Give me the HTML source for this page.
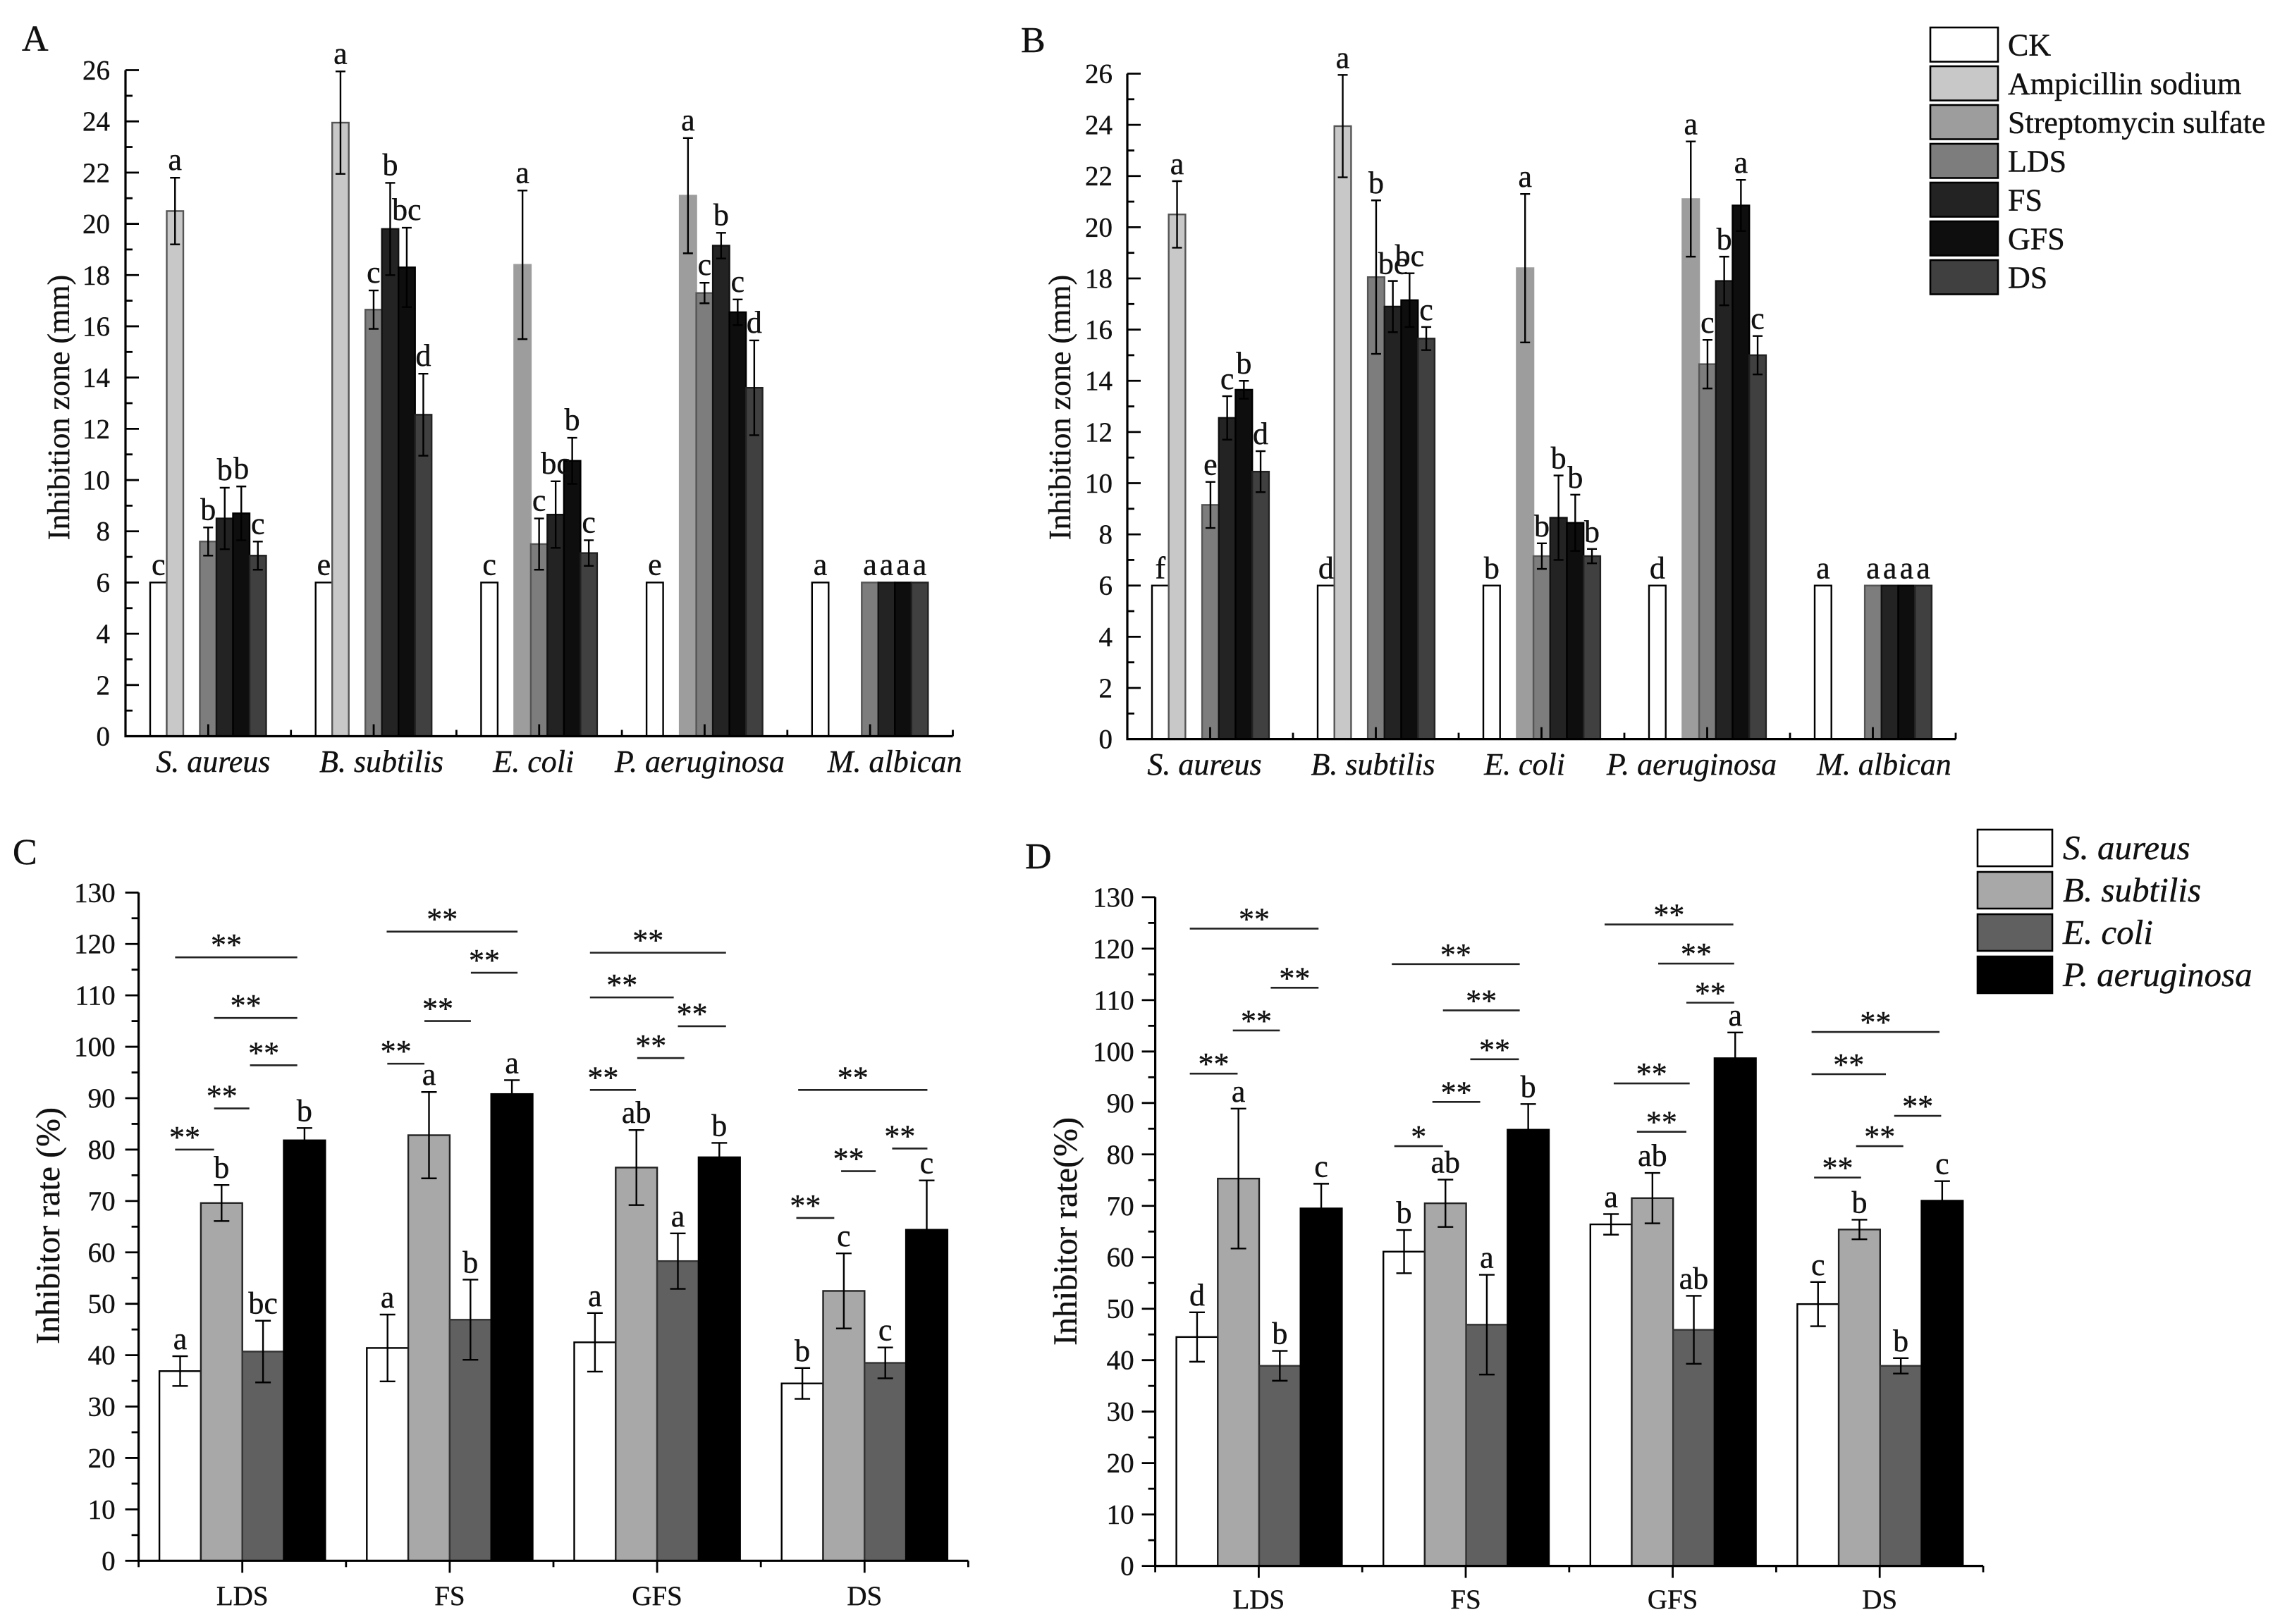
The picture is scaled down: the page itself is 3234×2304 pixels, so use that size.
<!DOCTYPE html>
<html lang="en">
<head>
<meta charset="utf-8">
<title>Inhibition zone and inhibitor rate charts</title>
<style>
html,body{margin:0;padding:0;background:#fff;width:3234px;height:2304px;overflow:hidden}
svg{display:block}
text{font-family:"Liberation Serif",serif;fill:#111;stroke:#111;stroke-width:.4px}
</style>
</head>
<body>
<svg id="fig" xmlns="http://www.w3.org/2000/svg" width="3234" height="2304" viewBox="0 0 3234 2304"></svg>
<script>
// ---- Panels A / B shared categories and series ----
const zoneCategories = ["S. aureus", "B. subtilis", "E. coli", "P. aeruginosa", "M. albican"];
const zoneSeries = ["CK", "Ampicillin sodium", "Streptomycin sulfate", "LDS", "FS", "GFS", "DS"];
const zoneTicks = [0, 2, 4, 6, 8, 10, 12, 14, 16, 18, 20, 22, 24, 26];

// ---- Panel A values (one array per organism, ordered as zoneSeries) ----
const aSaureus = [6, 20.5, null, 7.6, 8.5, 8.7, 7.05];
const aBsubtilis = [6, 23.95, null, 16.65, 19.8, 18.3, 12.55];
const aEcoli = [6, null, 18.4, 7.5, 8.65, 10.75, 7.15];
const aPaeruginosa = [6, null, 21.1, 17.3, 19.15, 16.55, 13.6];
const aMalbican = [6, null, null, 6, 6, 6, 6];
const aSaureusErr = [0, 1.3, 0, 0.55, 1.2, 1.05, 0.55];
const aBsubtilisErr = [0, 2.0, 0, 0.75, 1.8, 1.55, 1.6];
const aEcoliErr = [0, 0, 2.9, 1.0, 1.3, 0.9, 0.5];
const aPaeruginosaErr = [0, 0, 2.25, 0.4, 0.5, 0.5, 1.85];
const aMalbicanErr = [0, 0, 0, 0, 0, 0, 0];
const aSaureusLetters = ["c", "a", "", "b", "b", "b", "c"];
const aBsubtilisLetters = ["e", "a", "", "c", "b", "bc", "d"];
const aEcoliLetters = ["c", "", "a", "c", "bc", "b", "c"];
const aPaeruginosaLetters = ["e", "", "a", "c", "b", "c", "d"];
const aMalbicanLetters = ["a", "", "", "a", "a", "a", "a"];

// ---- Panel B values ----
const bSaureus = [6, 20.5, null, 9.15, 12.55, 13.65, 10.45];
const bBsubtilis = [6, 23.95, null, 18.05, 16.9, 17.15, 15.65];
const bEcoli = [6, null, 18.4, 7.15, 8.65, 8.45, 7.15];
const bPaeruginosa = [6, null, 21.1, 14.65, 17.9, 20.85, 15.0];
const bMalbican = [6, null, null, 6, 6, 6, 6];
const bSaureusErr = [0, 1.3, 0, 0.9, 0.85, 0.35, 0.8];
const bBsubtilisErr = [0, 2.0, 0, 3.0, 1.0, 1.05, 0.45];
const bEcoliErr = [0, 0, 2.9, 0.5, 1.65, 1.1, 0.28];
const bPaeruginosaErr = [0, 0, 2.25, 0.95, 0.95, 1.0, 0.75];
const bMalbicanErr = [0, 0, 0, 0, 0, 0, 0];
const bSaureusLetters = ["f", "a", "", "e", "c", "b", "d"];
const bBsubtilisLetters = ["d", "a", "", "b", "bc", "bc", "c"];
const bEcoliLetters = ["b", "", "a", "b", "b", "b", "b"];
const bPaeruginosaLetters = ["d", "", "a", "c", "b", "a", "c"];
const bMalbicanLetters = ["a", "", "", "a", "a", "a", "a"];

// ---- Panels C / D shared categories and series ----
const rateCategories = ["LDS", "FS", "GFS", "DS"];
const rateSeries = ["S. aureus", "B. subtilis", "E. coli", "P. aeruginosa"];
const rateTicks = [0, 10, 20, 30, 40, 50, 60, 70, 80, 90, 100, 110, 120, 130];

// ---- Panel C values (one array per treatment, ordered as rateSeries) ----
const cLDS = [36.9, 69.6, 40.7, 81.8];
const cFS = [41.4, 82.8, 46.9, 90.8];
const cGFS = [42.5, 76.5, 58.3, 78.5];
const cDS = [34.5, 52.5, 38.5, 64.4];
const cLDSErr = [2.9, 3.5, 6.0, 2.4];
const cFSErr = [6.5, 8.4, 7.8, 2.7];
const cGFSErr = [5.7, 7.3, 5.4, 2.8];
const cDSErr = [3.0, 7.3, 3.0, 9.6];
const cLDSLetters = ["a", "b", "bc", "b"];
const cFSLetters = ["a", "a", "b", "a"];
const cGFSLetters = ["a", "ab", "a", "b"];
const cDSLetters = ["b", "c", "c", "c"];
const cSigFrom = [0.176, 0.364, 0.537, 0.364, 0.176, 1.196, 1.602, 1.378, 1.199, 2.176, 2.176, 2.6, 2.404, 2.176, 3.18, 3.633, 3.387, 3.171];
const cSigTo = [0.765, 0.765, 0.765, 0.534, 0.364, 1.827, 1.827, 1.602, 1.378, 2.832, 2.58, 2.832, 2.631, 2.398, 3.803, 3.803, 3.554, 3.354];
const cSigLevel = [117.4, 105.6, 96.4, 88, 80, 122.4, 114.4, 105, 96.7, 118.3, 109.6, 104, 97.8, 91.6, 91.6, 80.2, 75.8, 66.7];
const cSigMark = ["**", "**", "**", "**", "**", "**", "**", "**", "**", "**", "**", "**", "**", "**", "**", "**", "**", "**"];

// ---- Panel D values ----
const dLDS = [44.5, 75.3, 38.9, 69.5];
const dFS = [61.1, 70.5, 46.9, 84.8];
const dGFS = [66.4, 71.5, 45.9, 98.7];
const dDS = [50.9, 65.4, 38.9, 71.0];
const dLDSErr = [4.8, 13.6, 2.9, 4.8];
const dFSErr = [4.2, 4.6, 9.7, 5.0];
const dGFSErr = [2.0, 4.9, 6.6, 5.0];
const dDSErr = [4.3, 1.9, 1.5, 3.8];
const dLDSLetters = ["d", "a", "b", "c"];
const dFSLetters = ["b", "ab", "a", "b"];
const dGFSLetters = ["a", "ab", "ab", "a"];
const dDSLetters = ["c", "b", "b", "c"];
const dSigFrom = [0.167, 0.558, 0.375, 0.167, 1.143, 1.39, 1.522, 1.339, 1.155, 2.171, 2.43, 2.566, 2.215, 2.327, 3.171, 3.171, 3.57, 3.386, 3.183];
const dSigTo = [0.789, 0.789, 0.602, 0.398, 1.761, 1.761, 1.757, 1.57, 1.39, 2.793, 2.797, 2.797, 2.582, 2.566, 3.789, 3.53, 3.797, 3.614, 3.41];
const dSigLevel = [123.9, 112.4, 104.1, 95.7, 117, 108, 98.5, 90.2, 81.6, 124.7, 117.1, 109.5, 93.8, 84.4, 103.8, 95.6, 87.5, 81.6, 75.5];
const dSigMark = ["**", "**", "**", "**", "**", "**", "**", "**", "*", "**", "**", "**", "**", "**", "**", "**", "**", "**", "**"];

// ---- Styling ----
const zoneFills = ["#ffffff", "#c8c8c8", "#9d9d9d", "#7d7d7d", "#232323", "#0e0e0e", "#404040"];
const zoneStrokes = ["#000", "#555", "#9d9d9d", "#555", "#111", "#000", "#222"];
const rateFills = ["#ffffff", "#a8a8a8", "#606060", "#000000"];
const rateStrokes = ["#000", "#222", "#333", "#000"];

const SVGNS = "http://www.w3.org/2000/svg";
const root = document.getElementById("fig");

function make(tag, attrs, parent, content) {
  const node = document.createElementNS(SVGNS, tag);
  for (const k in attrs) node.setAttribute(k, attrs[k]);
  if (content !== undefined) node.textContent = content;
  parent.appendChild(node);
  return node;
}
function slug(s) {
  return String(s).toLowerCase().replace(/[^a-z0-9]+/g, "-").replace(/^-|-$/g, "");
}

function drawPanel(p) {
  const g = make("g", {}, root);
  
  

  const xOf = u => p.x0 + u * p.groupW;
  const yOf = v => p.y0 + (v - p.ticks[0]) / (p.ticks[p.ticks.length - 1] - p.ticks[0]) * (p.yTop - p.y0);
  const nGroups = p.categories.length;
  const xEnd = xOf(nGroups);

  // panel letter
  const lab = make("text", { x: p.letterX, y: p.letterY, "font-size": 52 }, g, p.id);
  
  

  // bars + error bars + letters
  p.values.forEach((vals, gi) => {
    vals.forEach((v, si) => {
      if (v === null) return;
      const left = xOf(gi) + p.offset + si * p.barW;
      const bar = make("rect", {
        x: left, y: yOf(v), width: p.barW, height: yOf(p.ticks[0]) - yOf(v),
        fill: p.fills[si], stroke: p.strokes[si], "stroke-width": 2.4
      }, g);
      
      
    });
  });
  p.values.forEach((vals, gi) => {
    vals.forEach((v, si) => {
      if (v === null) return;
      const cx = xOf(gi) + p.offset + (si + 0.5) * p.barW;
      const e = p.errors[gi][si];
      const top = yOf(v + e);
      if (e > 0) {
        const eb = make("path", {
          d: "M" + (cx - p.cap) + " " + top + "H" + (cx + p.cap) +
             "M" + cx + " " + top + "V" + yOf(v - e) +
             "M" + (cx - p.cap) + " " + yOf(v - e) + "H" + (cx + p.cap),
          fill: "none", stroke: "#000", "stroke-width": 2.4
        }, g);
        
        
      }
      const t = p.letters[gi][si];
      if (t) {
        const tx = make("text", { x: cx, y: top - p.letterGap, "font-size": 44, "text-anchor": "middle" }, g, t);
        
        
      }
    });
  });

  // significance brackets
  if (p.sigFrom) {
    p.sigFrom.forEach((from, i) => {
      const yy = yOf(p.sigLevel[i]);
      const ln = make("line", { x1: xOf(from), x2: xOf(p.sigTo[i]), y1: yy, y2: yy, stroke: "#222", "stroke-width": 2.6 }, g);
      
      
      const st = make("text", { x: (xOf(from) + xOf(p.sigTo[i])) / 2 + p.sigShift, y: yy + p.sigLift, "font-size": 44, "text-anchor": "middle" }, g, p.sigMark[i]);
      
      
    });
  }

  // axes
  const dir = p.inward ? 1 : -1;
  const axes = make("path", {
    d: "M" + p.x0 + " " + yOf(p.ticks[p.ticks.length - 1]) + "V" + p.y0 + "H" + xEnd,
    fill: "none", stroke: "#000", "stroke-width": 3.2
  }, g);
  
  

  p.ticks.forEach((v, i) => {
    const yy = yOf(v);
    const t = make("line", { x1: p.x0, x2: p.x0 + dir * 19, y1: yy, y2: yy, stroke: "#000", "stroke-width": 2.8 }, g);
    
    
    const tl = make("text", { x: p.x0 - p.tickGap, y: yy + 13, "font-size": 39, "text-anchor": "end" }, g, v);
    
    
    if (i < p.ticks.length - 1) {
      const ym = yOf((v + p.ticks[i + 1]) / 2);
      const m = make("line", { x1: p.x0, x2: p.x0 + dir * 10, y1: ym, y2: ym, stroke: "#000", "stroke-width": 2.8 }, g);
      
      
    }
  });

  for (let k = 0; k <= nGroups; k++) {
    const b = make("line", { x1: xOf(k), x2: xOf(k), y1: p.y0, y2: p.y0 - dir * 9, stroke: "#000", "stroke-width": 2.8 }, g);
    
    
  }
  p.categories.forEach((c, gi) => {
    const cx = xOf(gi + 0.5);
    const tk = make("line", { x1: cx, x2: cx, y1: p.y0, y2: p.y0 - dir * 17, stroke: "#000", "stroke-width": 2.8 }, g);
    
    
    const tl = make("text", {
      x: cx + p.labelShift[gi], y: p.xLabelY, "font-size": p.xLabelSize, "text-anchor": "middle",
      "font-style": p.xItalic ? "italic" : "normal"
    }, g, c);
    
    
  });

  // y title
  const yt = make("text", {
    transform: "translate(" + p.titleX + " " + p.titleY + ") rotate(-90)",
    "font-size": p.titleSize, "text-anchor": "middle"
  }, g, p.title);
  
  
}

function drawLegend(l) {
  const g = make("g", {}, root);
  
  
  l.labels.forEach((s, i) => {
    const top = l.y + i * l.step;
    const r = make("rect", { x: l.x, y: top, width: l.w, height: l.h, fill: l.fills[i], stroke: "#000", "stroke-width": 2.6 }, g);
    
    
    const t = make("text", {
      x: l.x + l.w + l.textGap, y: top + l.h / 2 + l.baseShift, "font-size": l.size,
      "font-style": l.italic ? "italic" : "normal"
    }, g, s);
    
    
  });
}

drawPanel({
  id: "A", categories: zoneCategories, series: zoneSeries, ticks: zoneTicks,
  values: [aSaureus, aBsubtilis, aEcoli, aPaeruginosa, aMalbican],
  errors: [aSaureusErr, aBsubtilisErr, aEcoliErr, aPaeruginosaErr, aMalbicanErr],
  letters: [aSaureusLetters, aBsubtilisLetters, aEcoliLetters, aPaeruginosaLetters, aMalbicanLetters],
  fills: zoneFills, strokes: zoneStrokes,
  x0: 178, y0: 1044.5, yTop: 99.5, groupW: 234.7, offset: 35, barW: 23.5, cap: 7, inward: true,
  tickGap: 22, letterGap: 11, labelShift: [7, 11, -8, -7, 35], xLabelY: 1095, xLabelSize: 44, xItalic: true,
  title: "Inhibition zone (mm)", titleX: 98, titleY: 578, titleSize: 44, letterX: 31, letterY: 72
});
drawPanel({
  id: "B", categories: zoneCategories, series: zoneSeries, ticks: zoneTicks,
  values: [bSaureus, bBsubtilis, bEcoli, bPaeruginosa, bMalbican],
  errors: [bSaureusErr, bBsubtilisErr, bEcoliErr, bPaeruginosaErr, bMalbicanErr],
  letters: [bSaureusLetters, bBsubtilisLetters, bEcoliLetters, bPaeruginosaLetters, bMalbicanLetters],
  fills: zoneFills, strokes: zoneStrokes,
  x0: 1599, y0: 1048.6, yTop: 104.5, groupW: 235, offset: 35, barW: 23.7, cap: 7, inward: true,
  tickGap: 21, letterGap: 10, labelShift: [-8, -4, -24, -22, 16], xLabelY: 1099, xLabelSize: 44, xItalic: true,
  title: "Inhibition zone (mm)", titleX: 1518, titleY: 578, titleSize: 44, letterX: 1448, letterY: 74
});
drawPanel({
  id: "C", categories: rateCategories, series: rateSeries, ticks: rateTicks,
  values: [cLDS, cFS, cGFS, cDS],
  errors: [cLDSErr, cFSErr, cGFSErr, cDSErr],
  letters: [cLDSLetters, cFSLetters, cGFSLetters, cDSLetters],
  fills: rateFills, strokes: rateStrokes,
  sigFrom: cSigFrom, sigTo: cSigTo, sigLevel: cSigLevel, sigMark: cSigMark, sigShift: -14, sigLift: -3,
  x0: 196.6, y0: 2214.3, yTop: 1266.3, groupW: 294.2, offset: 29.5, barW: 58.8, cap: 11, inward: false,
  tickGap: 33, letterGap: 10, labelShift: [0, 0, 0, 0], xLabelY: 2277, xLabelSize: 39, xItalic: false,
  title: "Inhibitor rate (%)", titleX: 84, titleY: 1739, titleSize: 48, letterX: 18, letterY: 1226
});
drawPanel({
  id: "D", categories: rateCategories, series: rateSeries, ticks: rateTicks,
  values: [dLDS, dFS, dGFS, dDS],
  errors: [dLDSErr, dFSErr, dGFSErr, dDSErr],
  letters: [dLDSLetters, dFSLetters, dGFSLetters, dDSLetters],
  fills: rateFills, strokes: rateStrokes,
  sigFrom: dSigFrom, sigTo: dSigTo, sigLevel: dSigLevel, sigMark: dSigMark, sigShift: 0, sigLift: 1,
  x0: 1638.6, y0: 2221.6, yTop: 1272.9, groupW: 293.6, offset: 30, barW: 58.7, cap: 11, inward: false,
  tickGap: 30, letterGap: 10, labelShift: [0, 0, 0, 0], xLabelY: 2282, xLabelSize: 39, xItalic: false,
  title: "Inhibitor rate(%)", titleX: 1527, titleY: 1747, titleSize: 48, letterX: 1454, letterY: 1232
});

drawLegend({
  name: "treatment-legend", labels: zoneSeries, fills: zoneFills,
  x: 2738, y: 39, w: 96, h: 48.5, step: 55, textGap: 14, baseShift: 15, size: 44, italic: false
});
drawLegend({
  name: "organism-legend", labels: rateSeries, fills: rateFills,
  x: 2805, y: 1177, w: 106, h: 52, step: 60, textGap: 15, baseShift: 16, size: 49, italic: true
});
</script>
</body>
</html>
